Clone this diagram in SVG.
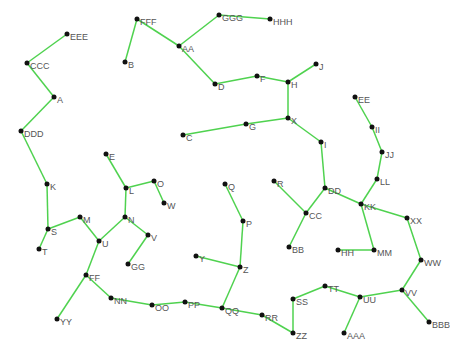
<svg xmlns="http://www.w3.org/2000/svg" width="450" height="345" viewBox="0 0 450 345">
<style>
.e line{stroke:#4fd24f;stroke-width:1.5}
.n circle{fill:#111}
.n text{font-family:"Liberation Sans",Arial,sans-serif;font-size:9px;fill:#555}
</style>
<rect width="450" height="345" fill="#fff"/>
<g id="edges" class="e">
<line x1="67" y1="34" x2="27" y2="63"/>
<line x1="27" y1="63" x2="54" y2="97"/>
<line x1="54" y1="97" x2="21" y2="131"/>
<line x1="21" y1="131" x2="47" y2="184"/>
<line x1="47" y1="184" x2="48" y2="229"/>
<line x1="48" y1="229" x2="39" y2="249"/>
<line x1="48" y1="229" x2="80" y2="217"/>
<line x1="80" y1="217" x2="99" y2="241"/>
<line x1="99" y1="241" x2="125" y2="217"/>
<line x1="125" y1="217" x2="126" y2="188"/>
<line x1="126" y1="188" x2="106" y2="154"/>
<line x1="126" y1="188" x2="154" y2="181"/>
<line x1="154" y1="181" x2="164" y2="203"/>
<line x1="125" y1="217" x2="148" y2="235"/>
<line x1="148" y1="235" x2="128" y2="264"/>
<line x1="99" y1="241" x2="86" y2="275"/>
<line x1="86" y1="275" x2="57" y2="319"/>
<line x1="86" y1="275" x2="111" y2="298"/>
<line x1="111" y1="298" x2="152" y2="305"/>
<line x1="152" y1="305" x2="185" y2="302"/>
<line x1="185" y1="302" x2="222" y2="308"/>
<line x1="222" y1="308" x2="240" y2="267"/>
<line x1="240" y1="267" x2="196" y2="256"/>
<line x1="240" y1="267" x2="243" y2="221"/>
<line x1="243" y1="221" x2="225" y2="184"/>
<line x1="222" y1="308" x2="262" y2="315"/>
<line x1="262" y1="315" x2="293" y2="333"/>
<line x1="293" y1="333" x2="293" y2="299"/>
<line x1="293" y1="299" x2="325" y2="286"/>
<line x1="325" y1="286" x2="360" y2="297"/>
<line x1="360" y1="297" x2="344" y2="333"/>
<line x1="360" y1="297" x2="402" y2="290"/>
<line x1="402" y1="290" x2="429" y2="322"/>
<line x1="402" y1="290" x2="421" y2="260"/>
<line x1="421" y1="260" x2="407" y2="218"/>
<line x1="407" y1="218" x2="361" y2="204"/>
<line x1="361" y1="204" x2="374" y2="250"/>
<line x1="374" y1="250" x2="338" y2="250"/>
<line x1="361" y1="204" x2="377" y2="179"/>
<line x1="377" y1="179" x2="382" y2="152"/>
<line x1="382" y1="152" x2="372" y2="127"/>
<line x1="372" y1="127" x2="355" y2="97"/>
<line x1="361" y1="204" x2="325" y2="188"/>
<line x1="325" y1="188" x2="306" y2="213"/>
<line x1="306" y1="213" x2="274" y2="181"/>
<line x1="306" y1="213" x2="289" y2="247"/>
<line x1="325" y1="188" x2="321" y2="142"/>
<line x1="321" y1="142" x2="288" y2="118"/>
<line x1="288" y1="118" x2="246" y2="124"/>
<line x1="246" y1="124" x2="183" y2="135"/>
<line x1="288" y1="118" x2="288" y2="82"/>
<line x1="288" y1="82" x2="316" y2="64"/>
<line x1="288" y1="82" x2="257" y2="76"/>
<line x1="257" y1="76" x2="215" y2="84"/>
<line x1="215" y1="84" x2="179" y2="46"/>
<line x1="179" y1="46" x2="137" y2="19"/>
<line x1="137" y1="19" x2="125" y2="62"/>
<line x1="179" y1="46" x2="219" y2="15"/>
<line x1="219" y1="15" x2="270" y2="19"/>
</g>
<g class="n">
<g id="EEE"><circle cx="67" cy="34" r="2.5"/><text x="70" y="40">EEE</text></g>
<g id="CCC"><circle cx="27" cy="63" r="2.5"/><text x="30" y="69">CCC</text></g>
<g id="A"><circle cx="54" cy="97" r="2.5"/><text x="57" y="103">A</text></g>
<g id="DDD"><circle cx="21" cy="131" r="2.5"/><text x="24" y="137">DDD</text></g>
<g id="FFF"><circle cx="137" cy="19" r="2.5"/><text x="140" y="25">FFF</text></g>
<g id="B"><circle cx="125" cy="62" r="2.5"/><text x="128" y="68">B</text></g>
<g id="AA"><circle cx="179" cy="46" r="2.5"/><text x="182" y="52">AA</text></g>
<g id="GGG"><circle cx="219" cy="15" r="2.5"/><text x="222" y="21">GGG</text></g>
<g id="HHH"><circle cx="270" cy="19" r="2.5"/><text x="273" y="25">HHH</text></g>
<g id="D"><circle cx="215" cy="84" r="2.5"/><text x="218" y="90">D</text></g>
<g id="F"><circle cx="257" cy="76" r="2.5"/><text x="260" y="82">F</text></g>
<g id="H"><circle cx="288" cy="82" r="2.5"/><text x="291" y="88">H</text></g>
<g id="J"><circle cx="316" cy="64" r="2.5"/><text x="319" y="70">J</text></g>
<g id="X"><circle cx="288" cy="118" r="2.5"/><text x="291" y="124">X</text></g>
<g id="G"><circle cx="246" cy="124" r="2.5"/><text x="249" y="130">G</text></g>
<g id="C"><circle cx="183" cy="135" r="2.5"/><text x="186" y="141">C</text></g>
<g id="I"><circle cx="321" cy="142" r="2.5"/><text x="324" y="148">I</text></g>
<g id="E"><circle cx="106" cy="154" r="2.5"/><text x="109" y="160">E</text></g>
<g id="K"><circle cx="47" cy="184" r="2.5"/><text x="50" y="190">K</text></g>
<g id="L"><circle cx="126" cy="188" r="2.5"/><text x="129" y="194">L</text></g>
<g id="O"><circle cx="154" cy="181" r="2.5"/><text x="157" y="187">O</text></g>
<g id="W"><circle cx="164" cy="203" r="2.5"/><text x="167" y="209">W</text></g>
<g id="M"><circle cx="80" cy="217" r="2.5"/><text x="83" y="223">M</text></g>
<g id="S"><circle cx="48" cy="229" r="2.5"/><text x="51" y="235">S</text></g>
<g id="N"><circle cx="125" cy="217" r="2.5"/><text x="128" y="223">N</text></g>
<g id="U"><circle cx="99" cy="241" r="2.5"/><text x="102" y="247">U</text></g>
<g id="V"><circle cx="148" cy="235" r="2.5"/><text x="151" y="241">V</text></g>
<g id="T"><circle cx="39" cy="249" r="2.5"/><text x="42" y="255">T</text></g>
<g id="GG"><circle cx="128" cy="264" r="2.5"/><text x="131" y="270">GG</text></g>
<g id="FF"><circle cx="86" cy="275" r="2.5"/><text x="89" y="281">FF</text></g>
<g id="NN"><circle cx="111" cy="298" r="2.5"/><text x="114" y="304">NN</text></g>
<g id="OO"><circle cx="152" cy="305" r="2.5"/><text x="155" y="311">OO</text></g>
<g id="YY"><circle cx="57" cy="319" r="2.5"/><text x="60" y="325">YY</text></g>
<g id="PP"><circle cx="185" cy="302" r="2.5"/><text x="188" y="308">PP</text></g>
<g id="QQ"><circle cx="222" cy="308" r="2.5"/><text x="225" y="314">QQ</text></g>
<g id="RR"><circle cx="262" cy="315" r="2.5"/><text x="265" y="321">RR</text></g>
<g id="ZZ"><circle cx="293" cy="333" r="2.5"/><text x="296" y="339">ZZ</text></g>
<g id="SS"><circle cx="293" cy="299" r="2.5"/><text x="296" y="305">SS</text></g>
<g id="TT"><circle cx="325" cy="286" r="2.5"/><text x="328" y="292">TT</text></g>
<g id="UU"><circle cx="360" cy="297" r="2.5"/><text x="363" y="303">UU</text></g>
<g id="AAA"><circle cx="344" cy="333" r="2.5"/><text x="347" y="339">AAA</text></g>
<g id="VV"><circle cx="402" cy="290" r="2.5"/><text x="405" y="296">VV</text></g>
<g id="BBB"><circle cx="429" cy="322" r="2.5"/><text x="432" y="328">BBB</text></g>
<g id="WW"><circle cx="421" cy="260" r="2.5"/><text x="424" y="266">WW</text></g>
<g id="XX"><circle cx="407" cy="218" r="2.5"/><text x="410" y="224">XX</text></g>
<g id="KK"><circle cx="361" cy="204" r="2.5"/><text x="364" y="210">KK</text></g>
<g id="MM"><circle cx="374" cy="250" r="2.5"/><text x="377" y="256">MM</text></g>
<g id="HH"><circle cx="338" cy="250" r="2.5"/><text x="341" y="256">HH</text></g>
<g id="LL"><circle cx="377" cy="179" r="2.5"/><text x="380" y="185">LL</text></g>
<g id="JJ"><circle cx="382" cy="152" r="2.5"/><text x="385" y="158">JJ</text></g>
<g id="II"><circle cx="372" cy="127" r="2.5"/><text x="375" y="133">II</text></g>
<g id="EE"><circle cx="355" cy="97" r="2.5"/><text x="358" y="103">EE</text></g>
<g id="DD"><circle cx="325" cy="188" r="2.5"/><text x="328" y="194">DD</text></g>
<g id="CC"><circle cx="306" cy="213" r="2.5"/><text x="309" y="219">CC</text></g>
<g id="R"><circle cx="274" cy="181" r="2.5"/><text x="277" y="187">R</text></g>
<g id="BB"><circle cx="289" cy="247" r="2.5"/><text x="292" y="253">BB</text></g>
<g id="Q"><circle cx="225" cy="184" r="2.5"/><text x="228" y="190">Q</text></g>
<g id="P"><circle cx="243" cy="221" r="2.5"/><text x="246" y="227">P</text></g>
<g id="Y"><circle cx="196" cy="256" r="2.5"/><text x="199" y="262">Y</text></g>
<g id="Z"><circle cx="240" cy="267" r="2.5"/><text x="243" y="273">Z</text></g>
</g>
</svg>
